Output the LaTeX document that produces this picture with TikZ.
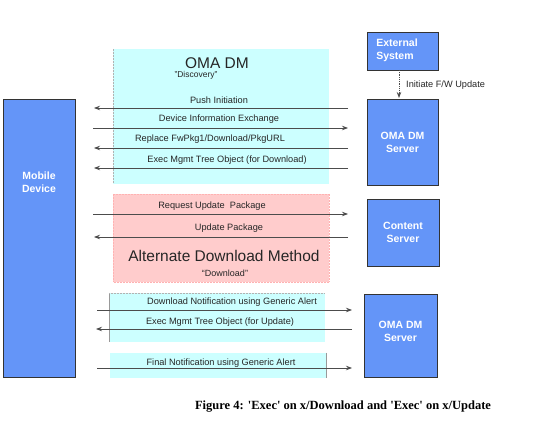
\documentclass[tikz,border=0pt]{standalone}
\usepackage{fontspec}
\setmainfont{Liberation Sans}
\newfontfamily\capfont{Liberation Serif}
\usetikzlibrary{arrows.meta,calc}
\definecolor{devblue}{HTML}{6495F8}
\definecolor{lcyan}{HTML}{CCFFFF}
\definecolor{lpink}{HTML}{FFCCCC}
\begin{document}
\begin{tikzpicture}[x=1pt,y=-1pt,
  ent/.style={draw=black!80, line width=0.6pt, fill=devblue, inner sep=0pt},
  enttext/.style={text=white, font=\bfseries\fontsize{10.5}{13}\selectfont, align=center, inner sep=0pt},
  msg/.style={draw=black!70, line width=0.8pt, -{Stealth[length=6pt,width=4.5pt]}},
  lbl/.style={font=\fontsize{9.2}{11}\selectfont, text=black!85, inner sep=0pt},
  title/.style={font=\fontsize{15.5}{18}\selectfont, text=black!85, inner sep=0pt},
  sub/.style={font=\fontsize{9}{11}\selectfont, text=black!85, inner sep=0pt},
  zone/.style={draw=black!30, densely dotted, line width=0.5pt}
]
\useasboundingbox (0,0) rectangle (544,430);
% zones
\fill[lcyan] (113,49) rectangle (329,184);
\draw[zone] (113,49) -- (113,184);
\fill[lpink] (113,194) rectangle (329,282);
\draw[zone, draw=red!30] (113,194) rectangle (329,282);
\fill[lcyan] (109,293) rectangle (325,342);
\draw[black!40, line width=0.6pt] (109,293) -- (109,342);
\draw[zone] (109,293) -- (325,293);
\fill[lcyan] (110,353) rectangle (326,378);
\draw[black!40, line width=0.6pt] (326,353) -- (326,378);

% entities
\node (md) [ent, minimum width=72pt, minimum height=278pt] at (39,238) {};
\node (mdt) [enttext] at ($(md.center)+(0,-56)$) {Mobile\\Device};
\node (ext) [ent, minimum width=71pt, minimum height=38pt] at (402.5,51) {};
\node (extt) [enttext, align=left] at (397,50) {External\\System};
\node (dm1) [ent, minimum width=71pt, minimum height=86pt] at (402.5,142) {};
\node (dm1t) [enttext] at (dm1.center) {OMA DM\\Server};
\node (cs) [ent, minimum width=72pt, minimum height=67pt] at (403,232.5) {};
\node (cst) [enttext] at (cs.center) {Content\\Server};
\node (dm2) [ent, minimum width=73pt, minimum height=83pt] at (400.5,335.5) {};
\node (dm2t) [enttext] at ($(dm2.center)+(0,-4)$) {OMA DM\\Server};

% zone titles
\node (t1) [title] at (217,63) {OMA DM};
\node (t1s) [sub] at (196,75) {\fontsize{8.5}{10}\selectfont ''Discovery''};
\node (t2) [title] at (224,256) {Alternate Download Method};
\node (t2s) [sub] at (225,273) {“Download”};

% initiate
\coordinate (extb) at (399,70);
\coordinate (dmt) at (399,98);
\draw[msg, densely dotted, -{Stealth[length=6pt,width=4.5pt]}] (extb) -- (dmt);
\node (init) [lbl, anchor=west] at (406,85) {Initiate F/W Update};

% messages
\coordinate (L1) at (94,108);  \coordinate (R1) at (348,108);
\draw[msg] (R1) -- (L1);
\node (m1) [lbl] at (219,100) {Push Initiation};
\coordinate (L2) at (93,128);  \coordinate (R2) at (348,128);
\draw[msg] (L2) -- (R2);
\node (m2) [lbl] at (219,119) {Device Information Exchange};
\coordinate (L3) at (94,148);  \coordinate (R3) at (348,148);
\draw[msg] (R3) -- (L3);
\node (m3) [lbl] at (210,139) {Replace FwPkg1/Download/PkgURL};
\coordinate (L4) at (94,168);  \coordinate (R4) at (348,168);
\draw[msg] (R4) -- (L4);
\node (m4) [lbl] at (227,160) {Exec Mgmt Tree Object (for Download)};

\coordinate (L5) at (93,214);  \coordinate (R5) at (348,214);
\draw[msg] (L5) -- (R5);
\node (m5) [lbl] at (212,206) {Request Update\ \ Package};
\coordinate (L6) at (94,237);  \coordinate (R6) at (348,237);
\draw[msg] (R6) -- (L6);
\node (m6) [lbl] at (229,228) {Update Package};

\coordinate (L7) at (97,310);  \coordinate (R7) at (352,310);
\draw[msg] (L7) -- (R7);
\node (m7) [lbl] at (232,302) {Download Notification using Generic Alert};
\coordinate (L8) at (96,329);  \coordinate (R8) at (352,329);
\draw[msg] (R8) -- (L8);
\node (m8) [lbl] at (220,322) {Exec Mgmt Tree Object (for Update)};
\coordinate (L9) at (97,368);  \coordinate (R9) at (352,368);
\draw[msg] (L9) -- (R9);
\node (m9) [lbl] at (221,363) {Final Notification using Generic Alert};

% caption
\node (cap) [font=\capfont\bfseries\fontsize{12.5}{15}\selectfont, inner sep=0pt] at (343,407)
  {Figure 4: \textquotesingle Exec\textquotesingle{} on x/Download and \textquotesingle Exec\textquotesingle{} on x/Update};
\end{tikzpicture}
\end{document}
